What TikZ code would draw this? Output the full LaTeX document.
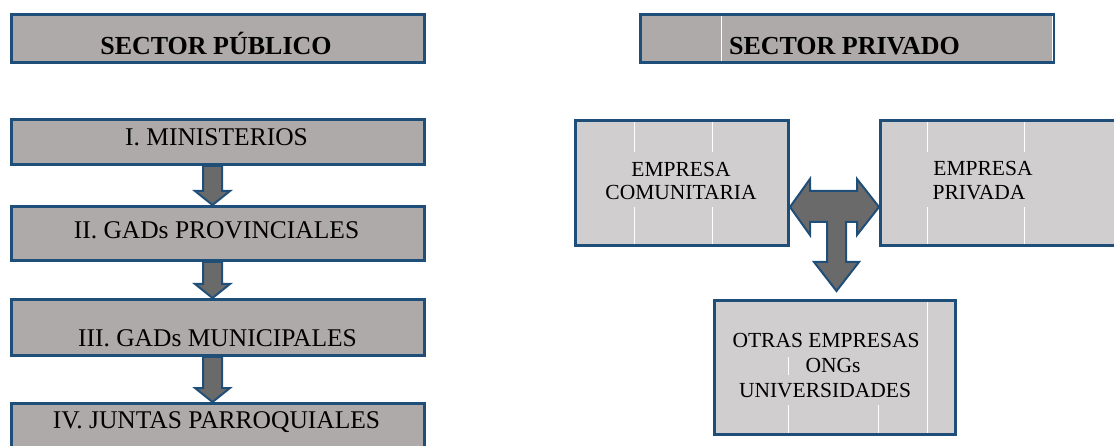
\documentclass[tikz,border=0pt]{standalone}
\usepackage{fontspec}
\setmainfont{Liberation Serif}
\usetikzlibrary{calc}
\definecolor{borde}{RGB}{31,78,121}
\definecolor{grisA}{RGB}{174,170,169}
\definecolor{grisB}{RGB}{208,206,207}
\definecolor{grisF}{RGB}{106,106,106}
\begin{document}
\begin{tikzpicture}[x=1pt,y=-1pt,line join=miter]
	\tikzset{caja/.style={draw=borde,line width=3pt,fill=grisA,inner sep=0pt,minimum width=413pt},
		caja2/.style={caja,fill=grisB},
		txt/.style={anchor=base,inner sep=0pt,font=\fontsize{25.5}{30}\selectfont},
		txtb/.style={txt,font=\bfseries\fontsize{26}{30}\selectfont},
		txt2/.style={txt,font=\fontsize{21.5}{26}\selectfont},
		flecha/.style={draw=borde,line width=2pt,fill=grisF},
		raya/.style={white,line width=1pt}}
	\useasboundingbox (0,0) rectangle (1114,446);
	\node[caja,minimum height=48pt] (pub) at (218,38.5) {};
	\node[caja,minimum height=45pt] (min) at (218,142) {};
	\node[caja,minimum height=54pt] (prov) at (218,233.5) {};
	\node[caja,minimum height=56pt] (mun) at (218,327.5) {};
	\node[caja,minimum height=56pt] (junt) at (218,431.5) {};
	\node[caja,minimum height=48pt] (priv) at (847,38.5) {};
	\node[caja2,minimum width=213pt,minimum height=125pt] (comu) at (682,183) {};
	\node[caja2,minimum width=250pt,minimum height=125pt] (empr) at (1005.5,183) {};
	\node[caja2,minimum width=241pt,minimum height=134pt] (otras) at (835,367.5) {};
	\draw[raya] (721,16)--(721,61) (1052,16)--(1052,61);
	\foreach \x in {634,712,927,1024}
		\draw[raya] (\x,122)--(\x,152) (\x,207)--(\x,244);
	\draw[raya] (927,302)--(927,433) (788,357)--(788,375) (788,405)--(788,433) (878,405)--(878,433);
	\node[txtb] (pub-t) at (216,55) {SECTOR PÚBLICO};
	\node[txt] (min-t) at (216.5,146) {I. MINISTERIOS};
	\node[txt] (prov-t) at (216.5,239) {II. GADs PROVINCIALES};
	\node[txt] (mun-t) at (217.5,347) {III. GADs MUNICIPALES};
	\node[txt] (junt-t) at (216.5,428) {IV. JUNTAS PARROQUIALES};
	\node[txtb] (priv-t) at (844.5,55) {SECTOR PRIVADO};
	\node[txt2] (comu-t1) at (681,177) {EMPRESA};
	\node[txt2] (comu-t2) at (681,200) {COMUNITARIA};
	\node[txt2] (empr-t1) at (983,176) {EMPRESA};
	\node[txt2] (empr-t2) at (979,200) {PRIVADA};
	\node[txt2] (otras-t1) at (826,348) {OTRAS EMPRESAS};
	\node[txt2] (otras-t2) at (833,373) {ONGs};
	\node[txt2] (otras-t3) at (825,397) {UNIVERSIDADES};
	\foreach \a/\b in {min/prov,prov/mun,mun/junt}
		\draw[flecha] ($(\a.south)+(-15,0)$)--($(\a.south)+(4,0)$)--($(\b.north)+(4,-14)$)--($(\b.north)+(12,-14)$)
			--($(\b.north)+(-5.5,0)$)--($(\b.north)+(-23,-14)$)--($(\b.north)+(-15,-14)$)--cycle;
	\draw[flecha] (790,207)--(810,179)--(810,191)--(857,191)--(857,179)--(879,207)--(857,235)--(857,222)
		--(846,222)--(846,262)--(859,262)--(836.5,291)--(814,262)--(827,262)--(827,222)--(810,222)--(810,235)--cycle;
\end{tikzpicture}
\end{document}
